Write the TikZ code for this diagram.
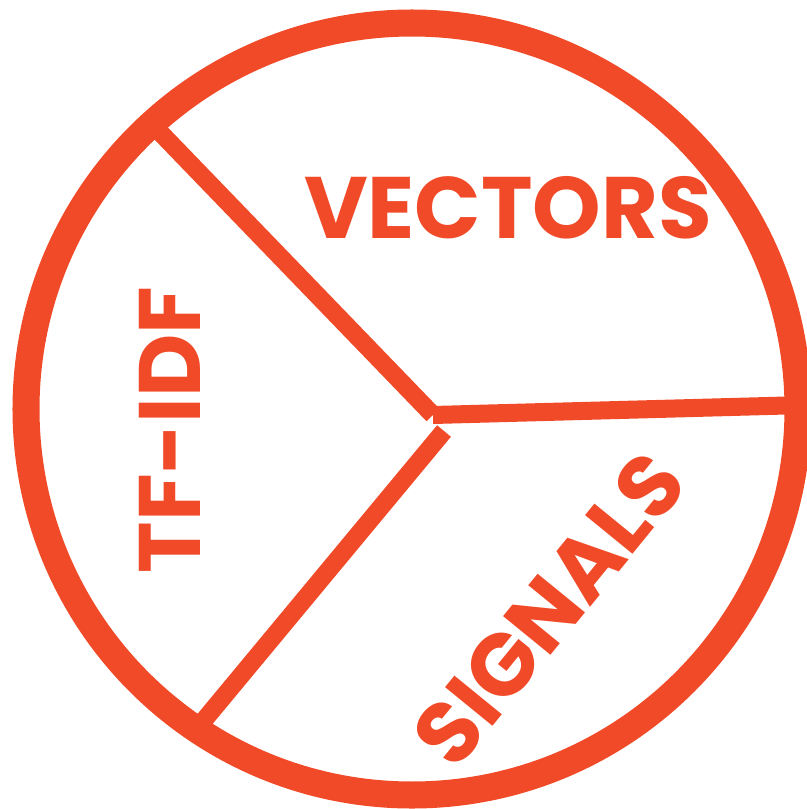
\documentclass[tikz,border=0pt]{standalone}
\usepackage{fontspec}
\usepackage{pdfrender}
\newfontfamily\labelfont{Poppins}[UprightFont=* Bold]
\definecolor{brandred}{RGB}{241,74,40}
% rounded, slightly heavier lettering: fill and stroke the glyphs with round joins
\newcommand\roundword[1]{\textpdfrender{TextRenderingMode=FillStroke,LineWidth=0.75pt,LineJoinStyle=Round,LineCapStyle=Round}{#1}}
\begin{document}
\begin{tikzpicture}[x=0.01cm,y=-0.01cm,
  ring/.style={draw=brandred,line width=0.27cm},
  spoke/.style={draw=brandred,line width=0.18cm},
  word/.style={text=brandred,inner sep=0pt,font=\labelfont\fontsize{24.8}{26}\selectfont}]
  \useasboundingbox (0,0) rectangle (807,809);
  % outer ring
  \draw[ring] (412,409) circle (386);
  % three spokes meeting near the middle
  \coordinate (hubA) at (433,415);
  \coordinate (hubB) at (444,431);
  \coordinate (ul) at (152,124);
  \coordinate (rt) at (805,405);
  \coordinate (ll) at (200,725);
  \draw[spoke] (hubA) -- (ul);
  \draw[spoke] (hubA) -- (rt);
  \draw[spoke] (hubB) -- (ll);
  % segment labels
  \node[word] (vec) at (508,208) {\roundword{VECTORS}};
  \node[word,rotate=90] (tf) at (170,430) {\roundword{TF-IDF}};
  \node[word,rotate=50.8] (sig) at (549,609) {\roundword{SIGNALS}};
\end{tikzpicture}
\end{document}
